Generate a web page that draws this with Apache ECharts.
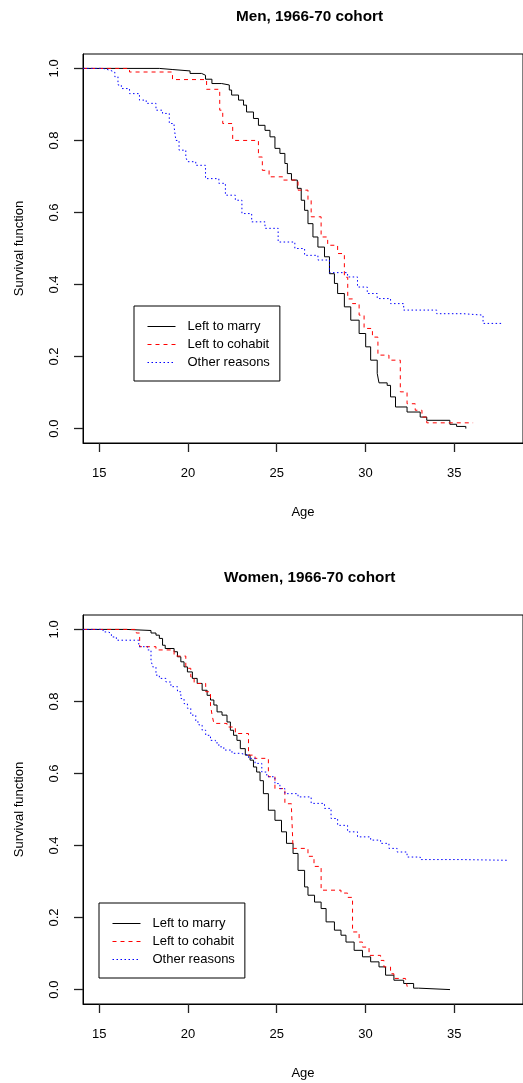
<!DOCTYPE html>
<html>
<head>
<meta charset="utf-8">
<script src="https://cdn.jsdelivr.net/npm/echarts@6/dist/echarts.min.js"></script>
<style>
  html, body { margin: 0; padding: 0; background: #fff; }
  #chart { width: 523px; height: 1083px; }
</style>
</head>
<body>
<div id="chart"></div>
<script>
// tick labels
const xTicks = [15, 20, 25, 30, 35];
const yTicks = [0, 0.2, 0.4, 0.6, 0.8, 1.0];
const seriesNames = ['Left to marry', 'Left to cohabit', 'Other reasons'];
const titles = ['Men, 1966-70 cohort', 'Women, 1966-70 cohort'];

// [age, survival]
const menMarry = [[14.1, 1.0], [18.39, 0.997], [19.11, 0.993], [20.12, 0.986], [20.77, 0.981], [20.99, 0.970],
  [21.35, 0.958], [21.90, 0.954], [22.33, 0.94], [22.46, 0.926], [22.85, 0.912], [23.13, 0.898], [23.30, 0.879],
  [23.69, 0.861], [23.97, 0.842], [24.34, 0.828], [24.62, 0.81], [24.90, 0.778], [25.18, 0.764], [25.46, 0.736],
  [25.60, 0.708], [25.83, 0.69], [26.16, 0.667], [26.38, 0.634], [26.57, 0.606], [26.76, 0.569], [27.04, 0.532],
  [27.32, 0.504], [27.69, 0.477], [27.97, 0.43], [28.25, 0.403], [28.43, 0.375], [28.81, 0.338], [29.17, 0.301],
  [29.64, 0.264], [30.01, 0.227], [30.29, 0.19], [30.66, 0.153], [30.76, 0.127], [31.22, 0.12], [31.41, 0.088],
  [31.69, 0.06], [32.34, 0.046], [33.08, 0.032], [33.45, 0.023], [34.75, 0.012], [35.13, 0.006], [35.65, 0.0]];
const menCohabit = [[14.1, 1.0], [16.71, 0.99], [19.13, 0.969], [21.05, 0.942], [21.79, 0.884], [21.96, 0.847],
  [22.52, 0.80], [23.97, 0.754], [24.19, 0.717], [24.57, 0.699], [25.37, 0.69], [26.2, 0.662], [26.76, 0.634],
  [26.94, 0.588], [27.5, 0.532], [27.87, 0.509], [28.43, 0.486], [28.81, 0.42], [29.0, 0.36], [29.27, 0.347],
  [29.64, 0.315], [29.92, 0.278], [30.39, 0.254], [30.70, 0.204], [31.32, 0.19], [31.96, 0.102], [32.34, 0.069],
  [32.80, 0.051], [33.18, 0.032], [33.45, 0.016], [36.06, 0.016]];
const menOther = [[14.1, 1.0], [15.22, 0.995], [15.6, 0.99], [15.88, 0.977], [16.06, 0.954], [16.25, 0.944],
  [16.71, 0.93], [17.27, 0.912], [17.65, 0.903], [18.2, 0.884], [18.57, 0.875], [18.95, 0.847], [19.22, 0.838],
  [19.32, 0.80], [19.5, 0.773], [19.88, 0.754], [19.97, 0.741], [20.44, 0.731], [20.99, 0.694], [21.74, 0.681],
  [22.11, 0.648], [22.67, 0.634], [23.04, 0.597], [23.59, 0.574], [24.34, 0.556], [25.08, 0.518], [26.02, 0.50],
  [26.57, 0.481], [27.32, 0.468], [27.97, 0.433], [28.99, 0.421], [29.55, 0.393], [30.1, 0.375], [30.66, 0.361],
  [31.41, 0.347], [32.15, 0.329], [34.01, 0.319], [35.5, 0.315], [36.62, 0.292], [37.64, 0.292]];

const womenMarry = [[14.1, 1.0], [16.53, 0.997], [17.92, 0.99], [18.2, 0.984], [18.39, 0.975], [18.57, 0.956],
  [18.72, 0.947], [19.22, 0.938], [19.41, 0.924], [19.6, 0.91], [19.78, 0.896], [19.97, 0.882], [20.25, 0.864],
  [20.52, 0.85], [20.8, 0.831], [21.08, 0.817], [21.27, 0.804], [21.46, 0.79], [21.64, 0.771], [21.92, 0.762],
  [22.2, 0.743], [22.39, 0.72], [22.57, 0.706], [22.76, 0.692], [22.95, 0.669], [23.23, 0.651], [23.5, 0.637],
  [23.69, 0.618], [23.87, 0.604], [24.06, 0.58], [24.25, 0.544], [24.53, 0.498], [24.9, 0.47], [25.27, 0.438],
  [25.55, 0.406], [25.92, 0.378], [26.2, 0.331], [26.57, 0.285], [26.76, 0.262], [27.13, 0.243], [27.5, 0.225],
  [27.78, 0.188], [28.25, 0.165], [28.62, 0.151], [28.9, 0.132], [29.36, 0.109], [29.83, 0.091], [30.29, 0.077],
  [30.76, 0.063], [31.13, 0.04], [31.6, 0.026], [32.15, 0.017], [32.71, 0.004], [32.99, 0.0], [34.76, 0.0]];
const womenCohabit = [[14.1, 1.0], [17.09, 0.99], [17.28, 0.952], [18.2, 0.943], [19.22, 0.926], [19.88, 0.892],
  [20.16, 0.868], [20.35, 0.85], [21.0, 0.827], [21.27, 0.79], [21.36, 0.762], [21.46, 0.739], [22.2, 0.729],
  [22.67, 0.711], [23.41, 0.651], [23.78, 0.642], [24.53, 0.591], [24.9, 0.558], [25.46, 0.516], [25.83, 0.503],
  [25.92, 0.392], [26.76, 0.37], [27.1, 0.342], [27.5, 0.276], [28.62, 0.268], [28.99, 0.256], [29.27, 0.16],
  [29.64, 0.132], [29.83, 0.118], [30.2, 0.095], [30.85, 0.081], [31.04, 0.063], [31.41, 0.044], [31.6, 0.031],
  [32.25, 0.026], [32.35, 0.008]];
const womenOther = [[14.1, 1.0], [15.22, 0.993], [15.5, 0.989], [15.69, 0.979], [15.97, 0.97], [17.23, 0.952],
  [17.73, 0.943], [17.92, 0.915], [18.01, 0.896], [18.2, 0.873], [18.39, 0.864], [18.76, 0.854], [19.04, 0.841],
  [19.41, 0.827], [19.6, 0.808], [19.78, 0.794], [19.97, 0.781], [20.16, 0.762], [20.44, 0.743], [20.63, 0.734],
  [20.8, 0.72], [21.0, 0.706], [21.27, 0.692], [21.55, 0.685], [21.74, 0.674], [22.02, 0.665], [22.48, 0.656],
  [22.95, 0.651], [23.41, 0.642], [23.78, 0.628], [24.16, 0.604], [24.44, 0.591], [24.9, 0.572], [25.18, 0.558],
  [25.46, 0.544], [26.2, 0.535], [26.94, 0.517], [27.69, 0.503], [28.06, 0.475], [28.43, 0.456], [28.99, 0.438],
  [29.55, 0.424], [30.29, 0.415], [30.85, 0.406], [31.32, 0.392], [31.78, 0.382], [32.34, 0.368], [33.08, 0.361],
  [35.32, 0.359], [38.01, 0.359]];

const font = 'Liberation Sans';
const lineStyles = [
  { color: '#000000', width: 1, type: 'solid' },
  { color: '#ff0000', width: 1, type: [4, 4] },
  { color: '#0000ff', width: 1, type: [1.5, 2.5] },
];
const tickStyle = { color: '#222', width: 1.3 };

const chart = echarts.init(document.getElementById('chart'));

function xAxisFor(i) {
  return {
    type: 'value', gridIndex: i, min: 14.09, max: 38.87,
    name: 'Age', nameLocation: 'middle', nameGap: 63,
    nameTextStyle: { fontFamily: font, fontSize: 13, color: '#000' },
    axisLine: { show: true, onZero: false, lineStyle: { color: '#000', width: 1 } },
    axisTick: { show: true, length: 9, customValues: xTicks, lineStyle: tickStyle },
    axisLabel: { customValues: xTicks, margin: 24, fontFamily: font, fontSize: 13, color: '#000' },
    splitLine: { show: false },
  };
}
function yAxisFor(i) {
  return {
    type: 'value', gridIndex: i, min: -0.04, max: 1.04,
    name: 'Survival function', nameLocation: 'middle', nameGap: 57,
    nameTextStyle: { fontFamily: font, fontSize: 13, color: '#000' },
    axisLine: { show: true, onZero: false, lineStyle: { color: '#000', width: 1 } },
    axisTick: { show: true, length: 9, customValues: yTicks, lineStyle: tickStyle },
    axisLabel: {
      customValues: yTicks, rotate: 90, margin: 22, fontFamily: font, fontSize: 13, color: '#000',
      formatter: (v) => v.toFixed(1),
    },
    splitLine: { show: false },
  };
}

const panels = [[menMarry, menCohabit, menOther], [womenMarry, womenCohabit, womenOther]];
const series = [];
panels.forEach((sets, p) => {
  sets.forEach((d, k) => {
    series.push({
      name: seriesNames[k], type: 'line', step: 'end', xAxisIndex: p, yAxisIndex: p,
      symbol: 'none', data: d, lineStyle: lineStyles[k], itemStyle: { color: lineStyles[k].color },
      silent: true, animation: false,
    });
  });
});

const legendBase = {
  orient: 'vertical', data: seriesNames, itemWidth: 28, itemHeight: 14, itemGap: 5,
  borderColor: '#000', borderWidth: 1, borderRadius: 0, padding: [14, 10, 12, 13],
  itemStyle: { opacity: 0 },
  lineStyle: { width: 1 },
  textStyle: { fontFamily: font, fontSize: 13, color: '#000', padding: [0, 0, 0, 7] },
};

chart.setOption({
  backgroundColor: '#fff',
  animation: false,
  title: [
    { text: titles[0], left: 231, top: 4,
      textStyle: { fontFamily: font, fontSize: 15.3, fontWeight: 'bold', color: '#000' } },
    { text: titles[1], left: 219, top: 565,
      textStyle: { fontFamily: font, fontSize: 15.3, fontWeight: 'bold', color: '#000' } },
  ],
  legend: [
    Object.assign({}, legendBase, { left: 134, top: 306 }),
    Object.assign({}, legendBase, { left: 99, top: 903 }),
  ],
  grid: [
    { left: 83, top: 54, width: 444, height: 389, show: true, borderColor: '#000', borderWidth: 1 },
    { left: 83, top: 615, width: 444, height: 389, show: true, borderColor: '#000', borderWidth: 1 },
  ],
  xAxis: [xAxisFor(0), xAxisFor(1)],
  yAxis: [yAxisFor(0), yAxisFor(1)],
  series: series,
});
</script>
</body>
</html>
